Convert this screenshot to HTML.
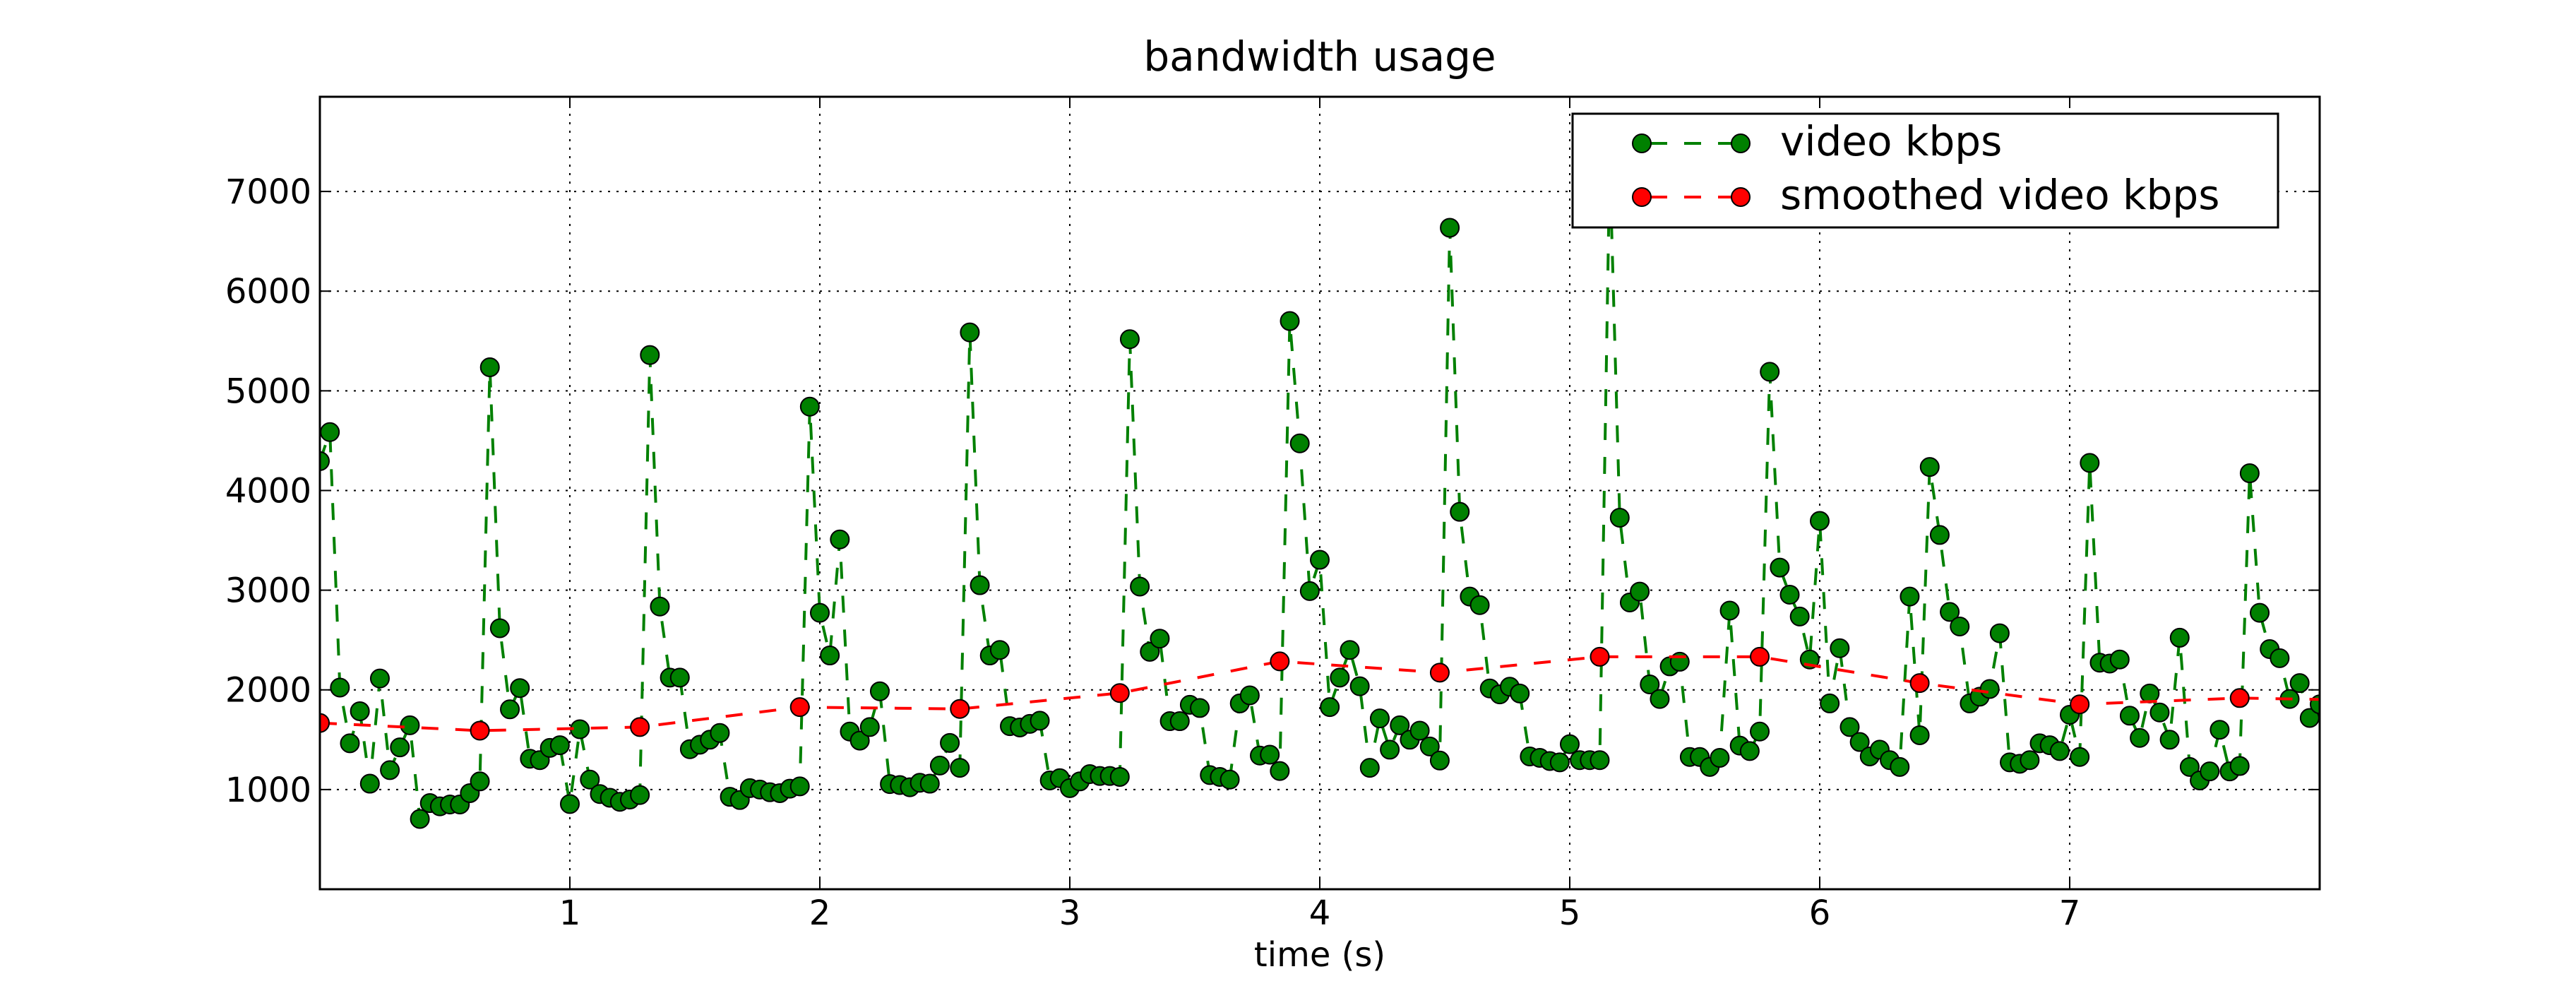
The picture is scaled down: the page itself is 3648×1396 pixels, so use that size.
<!DOCTYPE html>
<html><head><meta charset="utf-8"><style>
html,body{margin:0;padding:0;background:#fff;}
svg{display:block;}
text{font-family:"DejaVu Sans","Liberation Sans",sans-serif;fill:#000;}
</style></head><body>
<svg id="chart" width="3648" height="1396" viewBox="0 0 3648 1396" xmlns="http://www.w3.org/2000/svg">
<rect width="3648" height="1396" fill="#fff"/>
<defs><clipPath id="plotclip"><rect x="453" y="137" width="2832" height="1122"/></clipPath></defs>
<text x="1869" y="100" font-size="58" text-anchor="middle">bandwidth usage</text>
<text x="1869" y="1368" font-size="48" text-anchor="middle">time (s)</text>
<g id="grid"></g>
<g id="series" clip-path="url(#plotclip)"></g>
<rect x="453" y="137" width="2832" height="1122" fill="none" stroke="#000" stroke-width="3"/>
<g id="ticks"></g>
<g>
<rect x="2227" y="161" width="999" height="161" fill="#fff" stroke="#000" stroke-width="3"/>
<g>
<line x1="2325" y1="203" x2="2465" y2="203" stroke="#008000" stroke-width="4" stroke-dasharray="24,24" stroke-dashoffset="-12"/>
<circle cx="2325" cy="203" r="13" fill="#008000" stroke="#000" stroke-width="2"/>
<circle cx="2465" cy="203" r="13" fill="#008000" stroke="#000" stroke-width="2"/>
<text x="2521" y="220" font-size="58">video kbps</text>
</g>
<g>
<line x1="2325" y1="279" x2="2465" y2="279" stroke="#ff0000" stroke-width="4" stroke-dasharray="24,24" stroke-dashoffset="-12"/>
<circle cx="2325" cy="279" r="13" fill="#ff0000" stroke="#000" stroke-width="2"/>
<circle cx="2465" cy="279" r="13" fill="#ff0000" stroke="#000" stroke-width="2"/>
<text x="2521" y="296" font-size="58">smoothed video kbps</text>
</g>
</g>
</svg>
<script>
const frameStep = 0.04;
const videoKbps = [
4295,4586,2023,1464,1786,1059,2114,1195,1423,1645,
705,864,832,850,850,964,1082,5236,2618,1805,
2018,1309,1295,1418,1445,855,1605,1100,955,918,
877,900,945,5359,2836,2123,2123,1405,1450,1500,
1568,927,895,1014,1000,973,964,1009,1032,4841,
2773,2345,3509,1582,1491,1627,1986,1055,1045,1023,
1068,1059,1241,1468,1218,5586,3050,2345,2400,1636,
1623,1659,1691,1091,1114,1014,1082,1155,1136,1136,
1127,5518,3036,2382,2514,1686,1686,1850,1818,1145,
1127,1100,1864,1945,1341,1350,1186,5700,4473,2991,
3305,1827,2123,2400,2036,1218,1714,1400,1645,1500,
1591,1432,1291,6636,3786,2936,2850,2014,1955,2032,
1964,1332,1318,1286,1273,1455,1295,1295,1295,7300,
3727,2877,2986,2055,1909,2236,2282,1327,1327,1227,
1318,2795,1441,1386,1582,5191,3227,2955,2736,2305,
3695,1864,2418,1627,1477,1332,1400,1295,1227,2936,
1545,4236,3554,2782,2636,1864,1932,2009,2568,1273,
1259,1295,1464,1445,1386,1750,1327,4277,2273,2264,
2305,1741,1518,1964,1773,1500,2523,1227,1091,1182,
1600,1182,1236,4173,2773,2409,2318,1909,2068,1718,
1855];
const smoothTimes = [0,0.64,1.28,1.92,2.56,3.2,3.84,4.48,5.12,5.76,6.4,7.04,7.68,8.32];
const smoothKbps = [1668,1591,1627,1827,1809,1968,2286,2173,2332,2332,2068,1855,1918,1890];
const xTicks = [1,2,3,4,5,6,7];
const yTicks = [1000,2000,3000,4000,5000,6000,7000];
const xMin = 0, xMax = 8, yMin = 0, yMax = 7950;
const L = 453, R = 3285, T = 137, B = 1259;
function sx(t){ return L + (t - xMin) / (xMax - xMin) * (R - L); }
function sy(v){ return B - (v - yMin) / (yMax - yMin) * (B - T); }
const NS = "http://www.w3.org/2000/svg";
function mk(tag, attrs, parent){
  const e = document.createElementNS(NS, tag);
  for (const k in attrs) e.setAttribute(k, attrs[k]);
  parent.appendChild(e);
  return e;
}
const grid = document.getElementById('grid');
const ticks = document.getElementById('ticks');
const series = document.getElementById('series');
xTicks.forEach(t => {
  const g = mk('line', {x1: sx(t), y1: T, x2: sx(t), y2: B, stroke: '#000', 'stroke-width': 2, 'stroke-dasharray': '3,9'}, grid);
  
  
  const tk1 = mk('line', {x1: sx(t), y1: B, x2: sx(t), y2: B - 16, stroke: '#000', 'stroke-width': 2}, ticks);
  
  
  const tk2 = mk('line', {x1: sx(t), y1: T, x2: sx(t), y2: T + 16, stroke: '#000', 'stroke-width': 2}, ticks);
  
  
  const lb = mk('text', {x: sx(t), y: B + 50, 'font-size': 48, 'text-anchor': 'middle'}, ticks);
  lb.textContent = String(t);
  
  
});
yTicks.forEach(v => {
  const g = mk('line', {x1: L, y1: sy(v), x2: R, y2: sy(v), stroke: '#000', 'stroke-width': 2, 'stroke-dasharray': '3,9'}, grid);
  
  
  const tk1 = mk('line', {x1: L, y1: sy(v), x2: L + 16, y2: sy(v), stroke: '#000', 'stroke-width': 2}, ticks);
  
  
  const tk2 = mk('line', {x1: R, y1: sy(v), x2: R - 16, y2: sy(v), stroke: '#000', 'stroke-width': 2}, ticks);
  
  
  const lb = mk('text', {x: L - 12, y: sy(v) + 17, 'font-size': 48, 'text-anchor': 'end'}, ticks);
  lb.textContent = String(v);
  
  
});
// video series
const vpts = videoKbps.map((v, i) => sx(i * frameStep) + ',' + sy(v)).join(' ');
const vline = mk('polyline', {points: vpts, fill: 'none', stroke: '#008000', 'stroke-width': 4, 'stroke-dasharray': '24,24'}, series);


videoKbps.forEach((v, i) => {
  const c = mk('circle', {cx: sx(i * frameStep), cy: sy(v), r: 13, fill: '#008000', stroke: '#000', 'stroke-width': 2}, series);
  
  
});
// smoothed series
const spts = smoothKbps.map((v, i) => sx(smoothTimes[i]) + ',' + sy(v)).join(' ');
const sline = mk('polyline', {points: spts, fill: 'none', stroke: '#ff0000', 'stroke-width': 4, 'stroke-dasharray': '24,24'}, series);


smoothKbps.forEach((v, i) => {
  const c = mk('circle', {cx: sx(smoothTimes[i]), cy: sy(v), r: 13, fill: '#ff0000', stroke: '#000', 'stroke-width': 2}, series);
  
  
});
</script>
</body></html>
